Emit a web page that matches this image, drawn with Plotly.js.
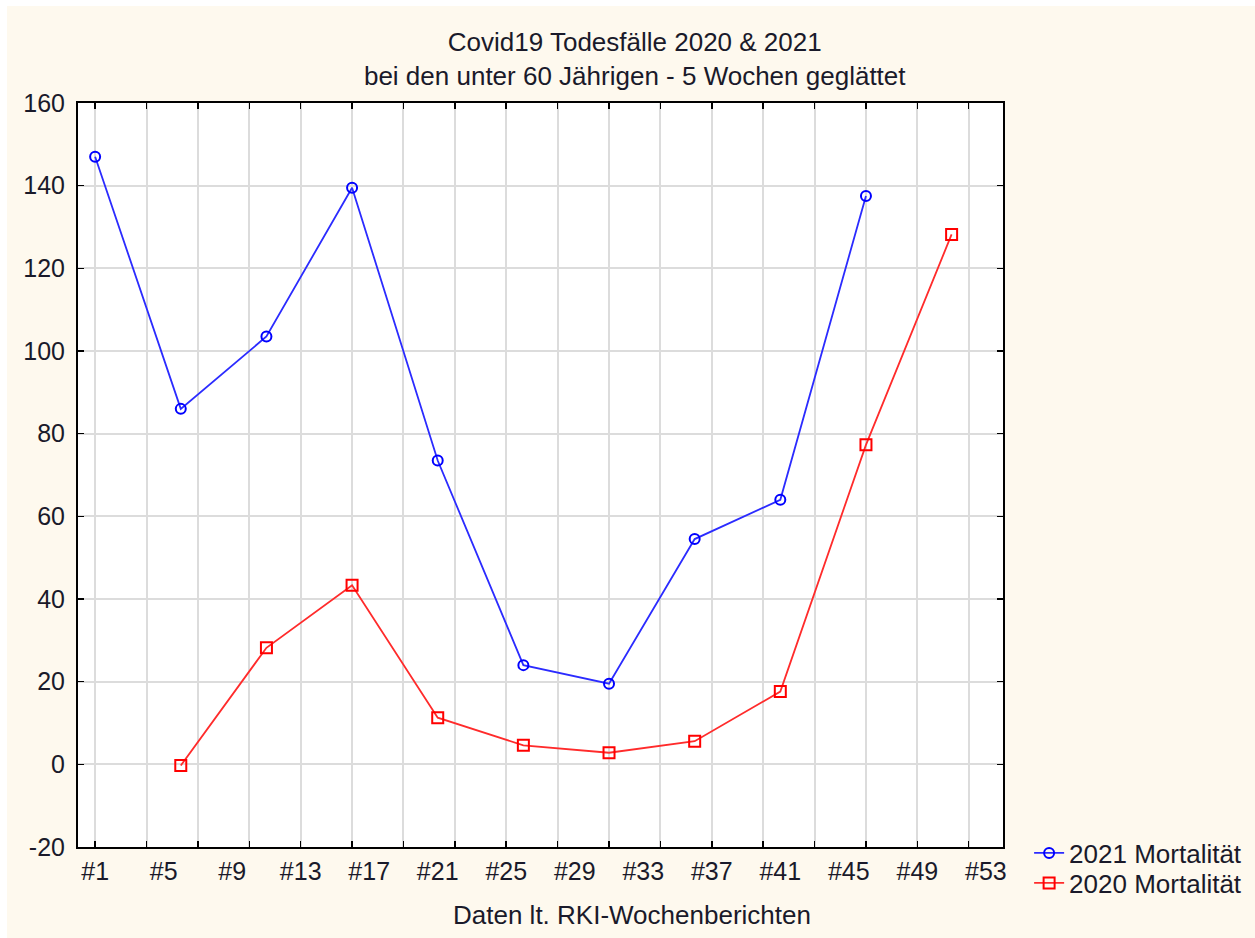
<!DOCTYPE html>
<html>
<head>
<meta charset="utf-8">
<script src="https://cdn.plot.ly/plotly-3.0.1.min.js"></script>
<style>
  html, body { margin: 0; padding: 0; background: #ffffff; }
  #chart { position: absolute; left: 7px; top: 6px; width: 1248px; height: 932px; }
</style>
</head>
<body>
<div id="chart"></div>
<script>
// Week numbers (5-week smoothing steps)
const weeks2021 = [1, 6, 11, 16, 21, 26, 31, 36, 41, 46];
const mort2021  = [147, 86, 103.5, 139.5, 73.5, 24, 19.5, 54.5, 64, 137.5];

const weeks2020 = [6, 11, 16, 21, 26, 31, 36, 41, 46, 51];
const mort2020  = [-0.3, 28.2, 43.3, 11.3, 4.6, 2.8, 5.6, 17.6, 77.3, 128.2];

const labelWeeks = [1, 5, 9, 13, 17, 21, 25, 29, 33, 37, 41, 45, 49, 53];
const labelText  = labelWeeks.map(w => '#' + w);
const gridWeeks  = [1, 4, 7, 10, 13, 16, 19, 22, 25, 28, 31, 34, 37, 40, 43, 46, 49, 52];
const yTickVals  = [-20, 0, 20, 40, 60, 80, 100, 120, 140, 160];
const yTickText  = yTickVals.map(v => String(v));

const FONT = 'Liberation Sans, Arial, sans-serif';
const fsz = 25;
const TXT = '#1a1a2a';

const traces = [
  {
    x: weeks2021, y: mort2021, name: '2021 Mortalität', legend: 'legend',
    type: 'scatter', mode: 'lines+markers', xaxis: 'x', yaxis: 'y',
    line: { color: '#2b2bff', width: 1.8 },
    marker: { symbol: 'circle-open', size: 10, color: '#0000ff', line: { width: 2, color: '#0000ff' } }
  },
  {
    x: weeks2020, y: mort2020, name: '2020 Mortalität', legend: 'legend2',
    type: 'scatter', mode: 'lines+markers', xaxis: 'x2', yaxis: 'y',
    line: { color: '#ff2b2b', width: 1.8 },
    marker: { symbol: 'square-open', size: 11, color: '#ff0000', line: { width: 2, color: '#ff0000' } }
  }
];

const legendBase = {
  xref: 'container', yref: 'container', xanchor: 'left', yanchor: 'middle',
  bgcolor: 'rgba(0,0,0,0)', font: { family: FONT, size: fsz + 1, color: TXT },
  itemwidth: 30
};

const layout = {
  width: 1248, height: 932,
  margin: { l: 71, r: 252, t: 97, b: 91 },
  paper_bgcolor: '#fef9ee',
  plot_bgcolor: '#ffffff',
  font: { family: FONT, size: fsz, color: TXT },
  title: {
    text: 'Covid19 Todesfälle 2020 & 2021<br>bei den unter 60 Jährigen - 5 Wochen geglättet',
    font: { family: FONT, size: fsz + 1, color: TXT },
    xref: 'container', x: 0.503, xanchor: 'center',
    yref: 'container', y: 0.952, yanchor: 'middle'
  },
  xaxis: {
    range: [0, 54],
    tickmode: 'array', tickvals: gridWeeks, ticktext: gridWeeks.map(() => ''),
    showgrid: true, gridcolor: '#dcdcdc', gridwidth: 2,
    ticks: 'inside', ticklen: 6, tickwidth: 1.5, tickcolor: '#000',
    showline: true, linecolor: '#000', linewidth: 2, mirror: 'ticks',
    zeroline: false, fixedrange: true
  },
  xaxis2: {
    overlaying: 'x', anchor: 'y', side: 'bottom',
    range: [0, 54],
    tickmode: 'array', tickvals: labelWeeks, ticktext: labelText,
    showgrid: false, ticks: '', showline: false, zeroline: false, fixedrange: true,
    ticklabelstandoff: 7,
    tickfont: { family: FONT, size: fsz, color: TXT }
  },
  yaxis: {
    range: [-20, 160], tickmode: 'array', tickvals: yTickVals, ticktext: yTickText,
    showgrid: true, gridcolor: '#dcdcdc', gridwidth: 2,
    ticks: 'inside', ticklen: 6, tickwidth: 1.5, tickcolor: '#000',
    showline: true, linecolor: '#000', linewidth: 2, mirror: 'ticks',
    zeroline: false, fixedrange: true, ticklabelstandoff: 6,
    tickfont: { family: FONT, size: fsz, color: TXT }
  },
  legend: Object.assign({}, legendBase, { x: 0.819, y: 0.0912 }),
  legend2: Object.assign({}, legendBase, { x: 0.819, y: 0.0590 }),
  annotations: [
    {
      text: 'Daten lt. RKI-Wochenberichten', showarrow: false,
      xref: 'paper', yref: 'paper', x: 0.599, y: -0.091, xanchor: 'center', yanchor: 'middle',
      font: { family: FONT, size: fsz + 1, color: TXT }
    }
  ],
  showlegend: true
};

Plotly.newPlot('chart', traces, layout, { displayModeBar: false, staticPlot: true });
</script>
</body>
</html>
